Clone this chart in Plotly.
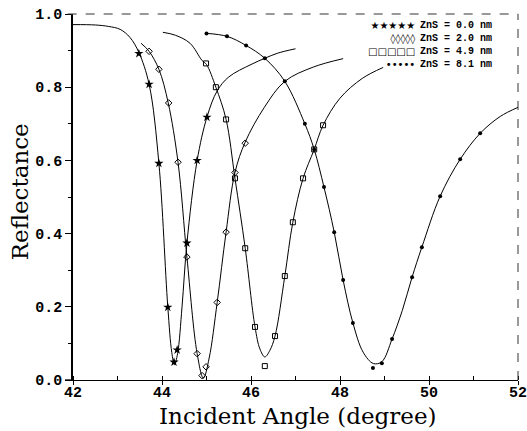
import plotly.graph_objects as go

# ---------------- data ----------------
legend_labels = ["ZnS = 0.0 nm", "ZnS = 2.0 nm", "ZnS = 4.9 nm", "ZnS = 8.1 nm"]
legend_glyphs = ["★★★★★", "◊◊◊◊◊", "□□□□□", "•••••"]
x_title = "Incident Angle (degree)"
y_title = "Reflectance"

# fitted (theory) curves
fit_x_00 = [42.0, 42.5, 42.8, 43.06, 43.28, 43.48, 43.71, 43.93, 44.13, 44.22, 44.28, 44.35, 44.45,
            44.56, 44.79, 45.01, 45.24, 45.5, 46.0, 46.31, 46.6, 47.0]
fit_r_00 = [0.971, 0.970, 0.966, 0.958, 0.936, 0.895, 0.808, 0.592, 0.200, 0.075, 0.042, 0.072, 0.200,
            0.374, 0.600, 0.718, 0.790, 0.828, 0.862, 0.879, 0.893, 0.905]

fit_x_20 = [43.53, 43.71, 43.93, 44.14, 44.36, 44.56, 44.79, 44.93, 45.06, 45.24, 45.44, 45.64,
            45.87, 46.3, 46.76, 47.4, 48.07]
fit_r_20 = [0.920, 0.898, 0.849, 0.757, 0.595, 0.336, 0.072, 0.005, 0.060, 0.212, 0.404, 0.567,
            0.650, 0.745, 0.816, 0.855, 0.878]

fit_x_49 = [44.02, 44.3, 44.63, 44.9, 45.0, 45.21, 45.44, 45.64, 45.87, 46.09, 46.2, 46.31, 46.42,
            46.54, 46.76, 46.94, 47.17, 47.42, 47.62, 48.0, 48.5, 48.97]
fit_r_49 = [0.950, 0.942, 0.920, 0.873, 0.862, 0.800, 0.712, 0.551, 0.360, 0.145, 0.085, 0.063, 0.080,
            0.120, 0.284, 0.431, 0.551, 0.630, 0.696, 0.770, 0.824, 0.854]

fit_x_81 = [45.0, 45.46, 45.89, 46.31, 46.76, 47.21, 47.42, 47.64, 47.87, 48.07, 48.29, 48.52, 48.75,
            48.94, 49.17, 49.4, 49.62, 49.84, 50.25, 50.7, 51.15, 51.6, 52.0]
fit_r_81 = [0.947, 0.939, 0.914, 0.879, 0.816, 0.700, 0.630, 0.527, 0.404, 0.273, 0.156, 0.076, 0.045,
            0.050, 0.112, 0.190, 0.281, 0.363, 0.502, 0.603, 0.674, 0.720, 0.745]

# measured points
meas_x_00 = [43.48, 43.71, 43.93, 44.13, 44.27, 44.34, 44.56, 44.79, 45.01]
meas_r_00 = [0.892, 0.808, 0.592, 0.199, 0.049, 0.082, 0.374, 0.600, 0.718]

meas_x_20 = [43.71, 43.93, 44.15, 44.36, 44.56, 44.79, 44.90, 44.99, 45.24, 45.44, 45.64, 45.87]
meas_r_20 = [0.898, 0.849, 0.757, 0.595, 0.336, 0.072, 0.012, 0.036, 0.212, 0.404, 0.567, 0.647]

meas_x_49 = [44.99, 45.21, 45.44, 45.64, 45.87, 46.09, 46.31, 46.54, 46.76, 46.94, 47.17, 47.42, 47.62]
meas_r_49 = [0.865, 0.800, 0.712, 0.551, 0.360, 0.145, 0.038, 0.120, 0.284, 0.431, 0.551, 0.630, 0.696]

meas_x_81 = [45.0, 45.46, 45.89, 46.31, 46.76, 47.21, 47.42, 47.64, 47.87, 48.07, 48.29, 48.74, 48.94,
             49.17, 49.62, 49.84, 50.25, 50.70, 51.15]
meas_r_81 = [0.947, 0.939, 0.914, 0.879, 0.816, 0.700, 0.630, 0.527, 0.404, 0.273, 0.156, 0.033, 0.046,
             0.112, 0.281, 0.363, 0.502, 0.603, 0.674]

x_tick_vals = [42, 44, 46, 48, 50, 52]
y_tick_vals = [0.0, 0.2, 0.4, 0.6, 0.8, 1.0]
y_tick_text = ["0.0", "0.2", "0.4", "0.6", "0.8", "1.0"]

# ---------------- figure ----------------
fits = [(fit_x_00, fit_r_00), (fit_x_20, fit_r_20), (fit_x_49, fit_r_49), (fit_x_81, fit_r_81)]
meas = [(meas_x_00, meas_r_00), (meas_x_20, meas_r_20), (meas_x_49, meas_r_49), (meas_x_81, meas_r_81)]
symbols = [dict(symbol="star", size=7, color="black", line=dict(width=0)),
           dict(symbol="diamond-open", size=5, color="black", line=dict(width=1)),
           dict(symbol="square-open", size=5, color="black", line=dict(width=1)),
           dict(symbol="circle", size=4, color="black", line=dict(width=0))]

fig = go.Figure()
for (fx, fr) in fits:
    fig.add_trace(go.Scatter(x=fx, y=fr, mode="lines",
                             line=dict(color="black", width=1, shape="spline", smoothing=1.0),
                             showlegend=False, hoverinfo="skip"))
for (mx, mr), mk, lab in zip(meas, symbols, legend_labels):
    fig.add_trace(go.Scatter(x=mx, y=mr, mode="markers", marker=mk, name=lab, showlegend=False))

tick_font = dict(family="Liberation Mono", size=15, color="black", weight="bold")

fig.update_layout(
    width=527, height=431,
    margin=dict(l=73, r=9, t=14, b=51),
    paper_bgcolor="white", plot_bgcolor="white",
    xaxis=dict(range=[42, 52], tickvals=x_tick_vals, ticks="outside", ticklen=4, tickwidth=1,
               tickcolor="black", showgrid=False, zeroline=False, showline=True, linecolor="black",
               linewidth=1.3, tickfont=tick_font, ticklabeloverflow="allow", automargin=False,
               ticklabelstandoff=-6,
               minor=dict(dtick=1, ticks="inside", ticklen=4, tickcolor="black", showgrid=False)),
    yaxis=dict(range=[0, 1], tickvals=y_tick_vals, ticktext=y_tick_text, ticks="outside", ticklen=6,
               tickwidth=1, tickcolor="black", showgrid=False, zeroline=False, showline=True,
               linecolor="black", linewidth=1.5, tickfont=tick_font, ticklabeloverflow="allow",
               automargin=False,
               minor=dict(dtick=0.1, ticks="outside", ticklen=3, tickcolor="black", showgrid=False)),
)

# axis titles as annotations (exact placement)
fig.add_annotation(xref="paper", yref="paper", x=0.505, y=-0.099, xanchor="center", yanchor="middle",
                   text=x_title, showarrow=False, borderpad=0,
                   font=dict(family="DejaVu Serif", size=23, color="black"))
fig.add_annotation(xref="paper", yref="paper", x=-0.119, y=0.513, xanchor="center", yanchor="middle",
                   text=y_title, showarrow=False, textangle=-90,
                   font=dict(family="DejaVu Serif", size=23, color="black"))

# dashed top and right borders of the frame
fig.add_shape(type="line", xref="paper", yref="paper", x0=-0.012, x1=1, y0=1, y1=1,
              line=dict(color="#333", width=1, dash="dash"))
fig.add_shape(type="line", xref="paper", yref="paper", x0=1, x1=1, y0=0, y1=1,
              line=dict(color="#333", width=1, dash="dash"))
fig.add_shape(type="line", xref="paper", yref="paper", x0=-0.018, x1=0, y0=0, y1=0,
              line=dict(color="black", width=1.3))

# legend block (top right): glyph column + label column
fig.add_annotation(xref="paper", yref="paper", x=0.772, y=0.988, xanchor="right", yanchor="top",
                   text="<br>".join(legend_glyphs), showarrow=False, align="right",
                   font=dict(family="DejaVu Sans", size=10, color="black"))
fig.add_annotation(xref="paper", yref="paper", x=0.776, y=0.988, xanchor="left", yanchor="top",
                   text="<br>".join(legend_labels), showarrow=False, align="left",
                   font=dict(family="Liberation Mono", size=10, color="black", weight="bold"))

fig.write_html("out.html")
